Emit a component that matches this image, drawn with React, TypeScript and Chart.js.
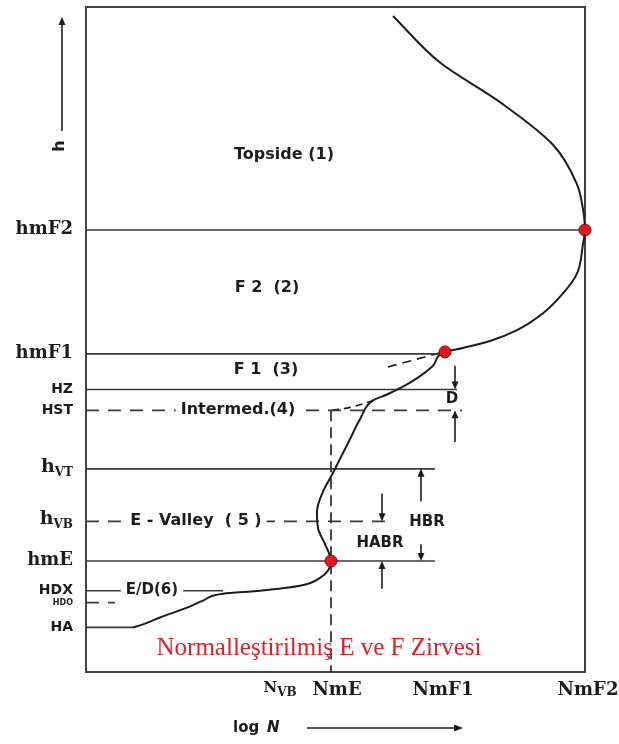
import React, { useEffect, useRef } from "react";
import { Chart, registerables } from "chart.js";

Chart.register(...registerables);

// ---- Electron density profile: log N (x, arbitrary units) vs height h (y, arbitrary units)
const profileLogN = [307, 354, 414, 467, 491, 497, 499, 497, 491, 477, 457, 431, 404, 377, 359, 347, 324, 301, 287, 274, 264, 254, 246, 237, 231, 232, 239, 245, 234, 214, 174, 137, 117, 101, 74, 54, 47];
const profileH = [662, 615, 575, 532, 492, 467, 446, 432, 402, 382, 362, 345, 334, 327, 323, 309, 292, 280, 274, 255, 235, 215, 199, 182, 162, 145, 129, 112, 95, 87, 82, 79, 72, 65, 55, 47, 45];

// ---- Characteristic heights
const levelNames = ["hmF2", "hmF1", "HZ", "HST", "hVT", "hVB", "hmE", "HDX", "HDO", "HA"];
const levelH = [446, 321, 285, 264, 205, 152, 112, 82, 70, 45];
const levelEnd = [499, 359, 371, 376, 349, 302, 349, 137, 29, 47];
const levelDashed = [false, false, false, true, false, true, false, false, true, false];

// ---- Normalised peaks
const peakNames = ["NmE", "NmF1", "NmF2"];
const peakLogN = [245, 359, 499];
const peakH = [112, 323, 446];

// ---- Bottom density labels
const densityLabels = ["NVB", "NmE", "NmF1", "NmF2"];
const densityLabelX = [194, 251, 357, 502];

// ---- Region labels
const regionLabels = ["Topside (1)", "F 2  (2)", "F 1  (3)", "Intermed.(4)", "E - Valley  ( 5 )", "E/D(6)"];
const regionX = [198, 181, 180, 152, 110, 66];
const regionH = [519, 385, 302, 264, 152, 82];

// ---- Auxiliary dashed constructions
const f1DashLogN = [354, 299];
const f1DashH = [322, 307];
const intermedDashLogN = [246, 264, 291];
const intermedDashH = [264, 267, 275];
const nmeDropLogN = [245, 245];
const nmeDropH = [264, 0];

// ---- Thickness arrows: [x, fromH, toH]
const arrowX = [369, 369, 335, 335, 296, 296];
const arrowFrom = [309, 232, 172, 129, 180, 84];
const arrowTo = [285, 264, 205, 112, 152, 112];
const thicknessLabels = ["D", "HBR", "HABR"];
const thicknessX = [366, 341, 294];
const thicknessH = [274, 150, 129];

const caption = "Normalleştirilmiş E ve F Zirvesi";
const captionX = 233;
const captionH = 24;

const INK = "#1c1c1c";
const LINE = "#3a3a3a";
const SERIF = '"DejaVu Serif"';
const SANS = '"DejaVu Sans"';

function pts(xs: number[], ys: number[]) {
  return xs.map((x, i) => ({ x, y: ys[i] }));
}

function text(ctx: CanvasRenderingContext2D, s: string, x: number, y: number, font: string, align: CanvasTextAlign = "center", color = INK, bg = false) {
  ctx.font = font;
  ctx.textAlign = align;
  ctx.textBaseline = "middle";
  if (bg) {
    const w = ctx.measureText(s).width;
    const x0 = align === "center" ? x - w / 2 : align === "right" ? x - w : x;
    ctx.fillStyle = "#ffffff";
    ctx.fillRect(x0 - 5, y - 9, w + 10, 18);
  }
  ctx.fillStyle = color;
  ctx.fillText(s, x, y);
}

function arrow(ctx: CanvasRenderingContext2D, x: number, y1: number, y2: number) {
  const dir = y2 > y1 ? 1 : -1;
  ctx.strokeStyle = INK;
  ctx.lineWidth = 1.6;
  ctx.beginPath();
  ctx.moveTo(x, y1);
  ctx.lineTo(x, y2 - dir * 5);
  ctx.stroke();
  ctx.fillStyle = INK;
  ctx.beginPath();
  ctx.moveTo(x, y2);
  ctx.lineTo(x - 3.5, y2 - dir * 8);
  ctx.lineTo(x + 3.5, y2 - dir * 8);
  ctx.closePath();
  ctx.fill();
}

const annotations = {
  id: "annotations",
  beforeDatasetsDraw(chart: any) {
    const { ctx, chartArea: a } = chart;
    ctx.save();
    ctx.strokeStyle = "#444";
    ctx.lineWidth = 2;
    ctx.strokeRect(a.left, a.top, a.right - a.left, a.bottom - a.top);
    ctx.restore();
  },
  afterDatasetsDraw(chart: any) {
    const { ctx, chartArea: a } = chart;
    const xs = chart.scales.x;
    const ys = chart.scales.y;
    const px = (v: number) => xs.getPixelForValue(v);
    const py = (v: number) => ys.getPixelForValue(v);
    ctx.save();

    // left level labels
    const lx = a.left - 13;
    levelNames.forEach((name, i) => {
      const y = py(levelH[i]);
      if (name === "hVT" || name === "hVB") {
        ctx.font = `bold 12px ${SERIF}`;
        const sub = name.slice(1);
        const ws = ctx.measureText(sub).width;
        text(ctx, sub, lx, y + 4, `bold 12px ${SERIF}`, "right");
        text(ctx, "h", lx - ws, y - 2, `bold 19px ${SERIF}`, "right");
      } else if (name.startsWith("hm")) {
        text(ctx, name, lx, y - 1, `bold 18px ${SERIF}`, "right");
      } else if (name === "HDO") {
        text(ctx, name, lx, y, `bold 8px ${SANS}`, "right");
      } else {
        text(ctx, name, lx, y, `bold 14px ${SANS}`, "right");
      }
    });

    // region labels
    regionLabels.forEach((s, i) => {
      const onLine = i >= 3;
      text(ctx, s, px(regionX[i]), py(regionH[i]) - (onLine ? 1 : 3), `bold ${i === 5 ? 15 : 16}px ${SANS}`, "center", INK, onLine);
    });

    // thickness arrows & labels
    arrowX.forEach((x, i) => arrow(ctx, px(x), py(arrowFrom[i]), py(arrowTo[i])));
    thicknessLabels.forEach((s, i) => {
      text(ctx, s, px(thicknessX[i]), py(thicknessH[i]) - 1, `bold 15px ${SANS}`, "center");
    });

    // bottom density labels
    const by = a.bottom + 18;
    densityLabels.forEach((s, i) => {
      const x = px(densityLabelX[i]);
      if (s === "NVB") {
        ctx.font = `bold 15px ${SERIF}`;
        const w1 = ctx.measureText("N").width;
        ctx.font = `bold 12px ${SERIF}`;
        const w2 = ctx.measureText("VB").width;
        const x0 = x - (w1 + w2) / 2;
        text(ctx, "N", x0, by - 2, `bold 15px ${SERIF}`, "left");
        text(ctx, "VB", x0 + w1, by + 3, `bold 12px ${SERIF}`, "left");
      } else {
        text(ctx, s, x, by, `bold 18px ${SERIF}`, "center");
      }
    });

    // log N axis arrow
    const ay = a.bottom + 56;
    text(ctx, "log", px(147), ay, `bold 15px ${SANS}`, "left");
    text(ctx, "N", px(181), ay, `italic bold 15px ${SANS}`, "left");
    ctx.save();
    ctx.strokeStyle = INK;
    ctx.lineWidth = 1.6;
    ctx.beginPath();
    ctx.moveTo(px(221), ay);
    ctx.lineTo(px(370), ay);
    ctx.stroke();
    ctx.fillStyle = INK;
    ctx.beginPath();
    ctx.moveTo(px(377), ay);
    ctx.lineTo(px(377) - 9, ay - 3.5);
    ctx.lineTo(px(377) - 9, ay + 3.5);
    ctx.closePath();
    ctx.fill();
    ctx.restore();

    // h axis arrow
    const hx = a.left - 24;
    arrow(ctx, hx, a.top + 124, a.top + 10);
    ctx.save();
    ctx.translate(hx - 2, a.top + 139);
    ctx.rotate(-Math.PI / 2);
    text(ctx, "h", 0, 0, `bold 16px ${SANS}`, "center");
    ctx.restore();

    // caption
    text(ctx, caption, px(captionX), py(captionH), `25px "Liberation Serif"`, "center", "#e0202a");

    ctx.restore();
  },
};

export default function App() {
  const ref = useRef<HTMLCanvasElement | null>(null);
  useEffect(() => {
    if (!ref.current) return;
    const lineStyle = { showLine: true, pointRadius: 0, borderColor: LINE, borderWidth: 1.6, fill: false };
    const datasets: any[] = [
      {
        data: pts(peakLogN, peakH),
        pointRadius: 6,
        pointBackgroundColor: "#e8141c",
        pointBorderColor: "#7a0a0a",
        pointBorderWidth: 1,
        showLine: false,
        clip: false,
        order: 0,
      },
      {
        ...lineStyle,
        data: pts(profileLogN, profileH),
        borderColor: INK,
        borderWidth: 2,
        indexAxis: "y",
        cubicInterpolationMode: "monotone",
        order: 1,
      },
      ...levelNames.map((_, i) => ({
        ...lineStyle,
        data: [{ x: 0, y: levelH[i] }, { x: levelEnd[i], y: levelH[i] }],
        borderDash: levelDashed[i] ? [13, 9] : [],
        order: 2,
      })),
      { ...lineStyle, data: pts(f1DashLogN, f1DashH), borderDash: [9, 6], borderColor: INK, order: 2 },
      { ...lineStyle, data: pts(intermedDashLogN, intermedDashH), borderDash: [7, 5], borderColor: INK, tension: 0.4, order: 2 },
      { ...lineStyle, data: pts(nmeDropLogN, nmeDropH), borderDash: [11, 6], borderColor: INK, order: 2 },
    ];
    const chart = new Chart(ref.current, {
      type: "scatter",
      data: { datasets },
      options: {
        animation: false,
        responsive: false,
        devicePixelRatio: 1,
        layout: { padding: { left: 86, right: 34, top: 1, bottom: 72 } },
        plugins: { legend: { display: false }, tooltip: { enabled: false } },
        scales: {
          x: { type: "linear", min: 0, max: 499, display: false },
          y: { type: "linear", min: 0, max: 671, display: false },
        },
      },
      plugins: [annotations],
    } as any);
    return () => chart.destroy();
  }, []);
  return (
    <div style={{ position: "absolute", left: 0, top: 0, width: 619, height: 744, background: "#fff" }}>
      <canvas ref={ref} width={619} height={744} style={{ display: "block" }} />
    </div>
  );
}
